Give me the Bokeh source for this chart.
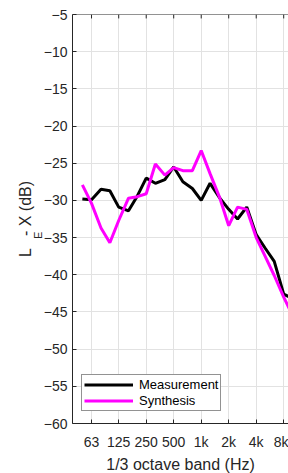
import numpy as np
from bokeh.plotting import figure
from bokeh.models import (Range1d, FixedTicker, Legend, LegendItem, Title, Span)
from bokeh.embed import file_html
from bokeh.resources import INLINE

# 1/3 octave band centres (Hz)
bands = ["50", "63", "80", "100", "125", "160", "200", "250", "315", "400", "500", "630",
         "800", "1k", "1.25k", "1.6k", "2k", "2.5k", "3.15k", "4k", "5k", "6.3k", "8k", "10k"]
freq = [50, 63, 80, 100, 125, 160, 200, 250, 315, 400, 500, 630,
        800, 1000, 1250, 1600, 2000, 2500, 3150, 4000, 5000, 6300, 8000, 10000]
measurement = [-29.8, -29.9, -28.5, -28.7, -30.9, -31.4, -29.4, -27.0, -27.7, -27.2, -25.5, -27.5,
               -28.4, -30.0, -27.7, -29.7, -31.2, -32.5, -30.9, -34.6, -36.4, -38.2, -42.6, -43.2]
synthesis = [-27.9, -30.4, -33.7, -35.7, -32.7, -29.7, -29.5, -29.1, -25.1, -26.6, -25.6, -26.0,
             -26.0, -23.3, -26.4, -29.7, -33.4, -30.9, -31.2, -35.0, -37.5, -40.1, -43.0, -45.5]

xtick_freqs = [63, 125, 250, 500, 1000, 2000, 4000, 8000]
xtick_labels = ["63", "125", "250", "500", "1k", "2k", "4k", "8k"]
yticks = [-60, -55, -50, -45, -40, -35, -30, -25, -20, -15, -10, -5]
y_min, y_max = -60, -5

FONT = "Liberation Sans"
AX = "#262626"
GRID = "#e2e2e2"

p = figure(width=288, height=473, x_axis_type="log",
           x_range=Range1d(39.0, 9025), y_range=Range1d(y_min, y_max),
           output_backend="svg", toolbar_location=None,
           min_border_left=72, min_border_right=0, min_border_top=14, min_border_bottom=45)
p.outline_line_color = None
p.background_fill_color = "white"
p.border_fill_color = "white"

# axes
for ax in (p.xaxis[0], p.yaxis[0]):
    ax.axis_line_color = AX
    ax.major_tick_line_color = AX
    ax.major_tick_in = 4
    ax.major_tick_out = 0
    ax.minor_tick_line_color = None
    ax.major_label_text_font = FONT
    ax.major_label_text_font_size = "14px"
    ax.major_label_text_color = AX

p.xaxis[0].ticker = FixedTicker(ticks=xtick_freqs)
p.xaxis[0].major_label_overrides = {f: l for f, l in zip(xtick_freqs, xtick_labels)}
p.xaxis[0].major_label_standoff = 10
p.yaxis[0].ticker = FixedTicker(ticks=yticks)
p.yaxis[0].major_label_standoff = 5

p.xgrid.ticker = FixedTicker(ticks=xtick_freqs)
p.ygrid.ticker = FixedTicker(ticks=yticks)
p.xgrid.grid_line_color = GRID
p.ygrid.grid_line_color = GRID

# top border with inward ticks
p.add_layout(Span(location=y_max, dimension="width", line_color=AX, line_width=1))
tick_len = 4.0 * (y_max - y_min) / 414.0
p.segment(x0=xtick_freqs, y0=[y_max] * len(xtick_freqs), x1=xtick_freqs,
          y1=[y_max - tick_len] * len(xtick_freqs), line_color=AX, line_width=1)

# data lines
r1 = p.line(freq, measurement, line_color="black", line_width=3)
r2 = p.line(freq, synthesis, line_color="#ff00ff", line_width=3)

legend = Legend(items=[LegendItem(label="Measurement", renderers=[r1]),
                       LegendItem(label="Synthesis", renderers=[r2])],
                location=(9, 12), padding=2, spacing=1, margin=0,
                glyph_width=49, glyph_height=15, label_height=15, label_standoff=6,
                label_text_font=FONT, label_text_font_size="13px", label_text_color="black",
                border_line_color=AX, border_line_width=1, background_fill_alpha=1)
p.add_layout(legend, "center")

# axis titles
p.add_layout(Title(text="1/3 octave band (Hz)", text_font=FONT, text_font_size="16px",
                   text_font_style="normal", text_color=AX, align="center", offset=7,
                   standoff=2), "below")
p.add_layout(Title(text="E", text_font=FONT, text_font_size="11px",
                   text_font_style="normal", text_color=AX, align="left", offset=184.5,
                   standoff=-7), "left")
p.add_layout(Title(text="L\u00a0\u00a0\u2009- X (dB)", text_font=FONT, text_font_size="16px",
                   text_font_style="normal", text_color=AX, align="center",
                   standoff=0), "left")

open("out.html", "w").write(file_html(p, INLINE))
